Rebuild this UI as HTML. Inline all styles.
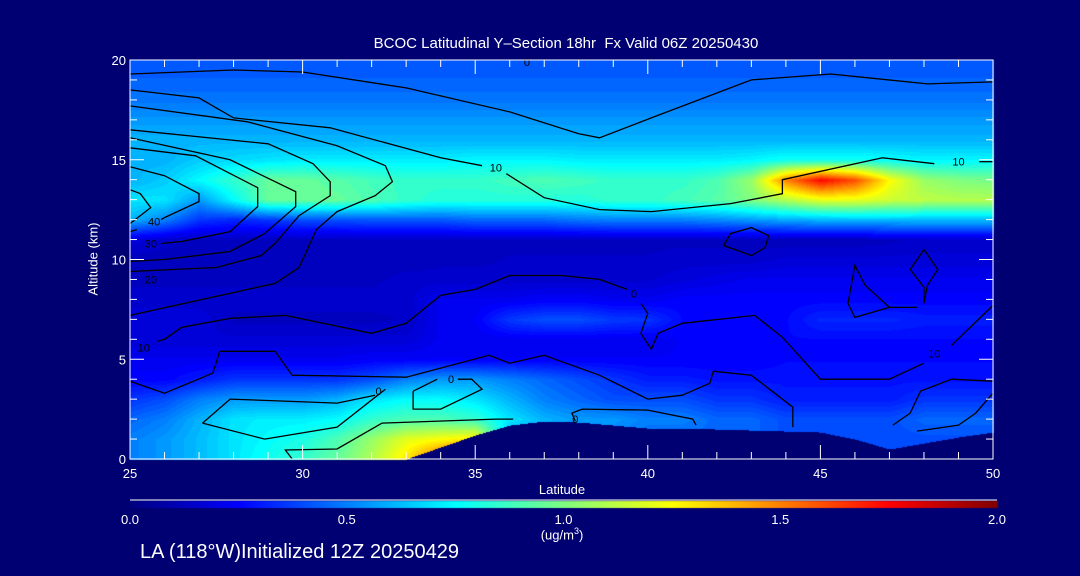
<!DOCTYPE html>
<html><head><meta charset="utf-8"><style>
html,body{margin:0;padding:0;background:#000073;}
#wrap{position:relative;width:1080px;height:576px;overflow:hidden;background:#000073;font-family:"Liberation Sans",sans-serif;color:#fff;}
.t{position:absolute;white-space:nowrap;color:#fff;}
</style></head><body>
<div id="wrap">
<div class="t" style="left:0;width:1132px;text-align:center;top:35px;font-size:15px;">BCOC Latitudinal Y&#8211;Section 18hr&nbsp; Fx Valid 06Z 20250430</div>
<canvas id="cv" width="1080" height="576" style="position:absolute;left:0;top:0;"></canvas>
<svg id="sv" width="1080" height="576" style="position:absolute;left:0;top:0;"></svg>
<div class="t" style="left:93px;top:259px;font-size:13px;transform:translate(-50%,-50%) rotate(-90deg);">Altitude (km)</div>
<div class="t" style="left:562px;top:482px;font-size:13px;transform:translateX(-50%);">Latitude</div>
<div class="t" style="left:562px;top:526px;font-size:13px;transform:translateX(-50%);">(ug/m<sup style="font-size:9px">3</sup>)</div>
<div class="t" style="left:140px;top:541px;font-size:20px;">LA (118°W)Initialized 12Z 20250429</div>
</div>
<script>
const lats=[25,26,27,28,29,30,31,32,33,34,35,36,37,38,39,40,41,42,43,44,45,46,47,48,49,50];
const alts=[0,1,2,3,4,5,6,7,8,9,10,11,12,13,14,15,16,17,18,19,20];
const bcoc=[
[.5,.55,.62,.7,.78,.85,.95,1.1,1.3,1.6,1.9,.4,.4,.4,.4,.4,.4,.4,.4,.4,.4,.4,.4,.4,.4,.4],
[.5,.55,.62,.7,.75,.8,.9,1.05,1.2,1.25,1.3,.6,.55,.5,.5,.45,.45,.45,.45,.4,.4,.4,.4,.4,.4,.4],
[.45,.5,.6,.7,.72,.72,.75,.85,.9,.9,.85,.7,.6,.55,.55,.5,.5,.45,.45,.4,.4,.4,.4,.45,.45,.45],
[.35,.4,.5,.55,.55,.55,.6,.7,.75,.75,.7,.6,.5,.45,.4,.4,.4,.35,.35,.3,.3,.3,.3,.35,.35,.35],
[.25,.25,.3,.35,.35,.35,.35,.4,.5,.55,.55,.5,.45,.4,.35,.3,.3,.28,.28,.28,.28,.28,.28,.28,.28,.28],
[.22,.22,.22,.22,.22,.22,.22,.24,.24,.24,.24,.24,.24,.24,.24,.24,.24,.24,.24,.26,.26,.26,.26,.26,.26,.26],
[.17,.17,.17,.17,.17,.17,.17,.17,.17,.22,.22,.22,.22,.22,.22,.22,.24,.24,.26,.26,.26,.26,.26,.26,.26,.26],
[.18,.18,.18,.13,.13,.13,.13,.13,.14,.22,.24,.36,.4,.4,.36,.35,.26,.26,.26,.26,.32,.32,.32,.3,.3,.3],
[.15,.15,.15,.15,.15,.15,.15,.15,.15,.22,.22,.22,.24,.24,.22,.22,.25,.25,.25,.25,.25,.25,.25,.25,.25,.25],
[.13,.13,.13,.13,.13,.13,.13,.13,.15,.15,.15,.15,.15,.15,.15,.16,.18,.2,.22,.22,.22,.22,.22,.22,.22,.22],
[.12,.12,.12,.12,.12,.12,.12,.12,.12,.13,.13,.14,.14,.14,.14,.14,.15,.15,.15,.17,.17,.17,.17,.17,.17,.17],
[.18,.15,.13,.13,.13,.13,.13,.13,.13,.13,.13,.13,.13,.13,.13,.13,.13,.13,.12,.12,.12,.12,.13,.15,.15,.15],
[.6,.5,.35,.32,.35,.4,.4,.42,.42,.42,.45,.45,.45,.48,.5,.5,.5,.52,.55,.58,.6,.62,.62,.62,.62,.62],
[.7,.7,.55,.75,.95,.95,.95,.9,.85,.82,.82,.82,.82,.82,.85,.85,.88,.92,1.0,1.1,1.2,1.2,1.15,1.12,1.1,1.1],
[.6,.65,.75,.85,.95,.95,.92,.88,.85,.85,.85,.88,.9,.88,.85,.85,.85,.9,1.05,1.5,1.75,1.6,1.25,1.05,1.0,.98],
[.6,.6,.65,.68,.7,.72,.72,.72,.72,.72,.74,.74,.74,.72,.72,.72,.72,.72,.74,.78,.78,.78,.76,.74,.74,.74],
[.6,.6,.6,.6,.6,.6,.6,.6,.6,.6,.6,.6,.6,.6,.6,.6,.6,.6,.6,.6,.6,.6,.6,.6,.6,.6],
[.55,.55,.55,.55,.55,.55,.55,.55,.55,.55,.55,.55,.55,.55,.55,.55,.55,.55,.55,.55,.55,.55,.55,.55,.55,.55],
[.48,.48,.48,.48,.48,.48,.48,.48,.48,.48,.48,.48,.48,.48,.48,.48,.48,.48,.48,.48,.48,.48,.48,.48,.48,.48],
[.44,.44,.44,.44,.44,.44,.44,.44,.44,.44,.44,.44,.44,.44,.44,.44,.44,.44,.44,.44,.44,.44,.44,.44,.44,.44],
[.42,.42,.42,.42,.42,.42,.42,.42,.42,.42,.42,.42,.42,.42,.42,.42,.42,.42,.42,.42,.42,.42,.42,.42,.42,.42]];
const terrain=[0,0,0,0,0,0,0,0,0,0.6,1.2,1.7,1.9,1.85,1.7,1.55,1.55,1.5,1.45,1.4,1.35,1.0,0.5,0.8,1.1,1.35];
const xTicks=[25,30,35,40,45,50];
const yTicks=[0,5,10,15,20];
const cbTicks=["0.0","0.5","1.0","1.5","2.0"];
const cbMax=2.0;
const contourLines=[
 [[25,19.3],[28,19.5],[30,19.4],[33,18.6],[36,17.4],[38,16.3],[38.6,16.1],[40.1,17.1],[43,19.0],[45.3,19.3],[48.1,18.8],[50,18.9]],
 [[25,18.5],[27,18.1],[28,17.1],[30.8,16.6],[34,15.1],[35.2,14.7]],
 [[35.9,14.3],[37,13.1],[38.6,12.5],[40.1,12.4],[42.4,12.8],[43.9,13.3],[43.9,14.0],[46.8,15.1],[48.3,14.8]],
 [[49.6,14.9],[50,14.9]],
 [[25,17.7],[28.4,16.9],[31,15.7],[32.4,14.7],[32.6,13.9],[32.1,13.2],[31,12.4],[30.4,11.5],[29.9,9.6],[29.2,8.8],[25,7.2]],
 [[25,16.5],[29,15.8],[30.3,14.8],[30.8,13.9],[30.8,13.2],[29.9,12.2],[29.2,10.8],[28.8,10.2],[27.5,9.6],[25,9.4]],
 [[25,16.1],[27.9,15.0],[29.8,13.4],[29.8,12.65],[28.9,11.3],[27.9,10.4],[26,10.0],[25,9.9]],
 [[25,15.6],[26.9,15.2],[28.7,13.6],[28.7,12.65],[27.9,11.4],[26.5,10.9],[25.9,10.8]],
 [[25,14.65],[26,14.2],[27.0,13.3],[27.0,12.9],[26.0,12.1],[25.9,12.0]],
 [[25,13.5],[25.3,13.3],[25.6,12.6],[25,11.8]],
 [[25.2,11.5],[25,11.4]],
 [[25.8,5.9],[26,6.0],[26.5,6.6],[27.9,7.05],[29.5,7.2],[32,6.3],[33,6.8],[34,8.2],[35,8.5],[36,9.2],[37.5,9.2],[38.6,9.0],[39.4,8.5]],
 [[39.8,7.8],[40.0,7.3],[39.8,6.3],[40.1,5.5],[40.3,6.3],[41,6.8],[43.1,7.2],[43.9,6.1],[45,4.0],[47,4.0],[48.0,4.8]],
 [[48.8,5.7],[50,7.7]],
 [[25,3.9],[26,3.3],[27.4,4.3],[27.6,5.4],[29.2,5.4],[29.7,4.2],[33,4.1],[35.4,5.2],[36,4.8],[37,5.2],[38.6,4.2],[40,3.0],[41,3.2],[41.8,3.8],[41.9,4.4],[43,4.2],[44.2,2.6],[44.2,1.6]],
 [[27.1,1.8],[27.9,3.0],[31,2.8],[32.1,3.2]],
 [[32.4,3.5],[31,1.6],[28.9,1.0],[27.1,1.8]],
 [[33.2,3.4],[33.9,4.0]],
 [[34.5,4.0],[34.9,4.0],[35.2,3.5],[34,2.5],[33.2,2.5],[33.2,3.4]],
 [[29.7,0],[29.5,0.45],[31,0.5],[32.3,1.8],[35.6,2.0],[36.1,2.0]],
 [[37.9,1.9],[37.8,2.3],[38.1,2.5],[40,2.45],[41.3,2.0],[41.4,1.7]],
 [[42.2,10.7],[42.4,11.3],[43,11.6],[43.5,11.2],[43.4,10.6],[43,10.2],[42.2,10.7]],
 [[47.8,7.6],[47,7.6],[46.3,8.7],[46,9.7],[45.8,7.8],[46,7.1],[47,7.6]],
 [[48,10.5],[48.4,9.5],[48.1,8.7],[48,7.8],[48,8.6],[47.6,9.5],[48,10.5]],
 [[47.1,1.7],[47.6,2.3],[47.9,3.4],[48.8,4.0],[50,3.9]],
 [[50,3.3],[49.5,2.3],[49,1.7],[47.8,1.4]]
];
const labels=[[35.6,14.6,'10'],[49,14.9,'10'],[25.7,11.9,'40'],[25.6,10.8,'30'],[25.6,9.0,'20'],[25.4,5.6,'10'],[39.6,8.3,'0'],[48.3,5.3,'10'],[34.3,4.0,'0'],[32.2,3.4,'0'],[37.9,2.0,'0'],[36.5,19.9,'0']];
const W=1080,H=576;
const X0=130,X1=993,Y0=459,Y1=60;
const xs=lat=>X0+(lat-25)*(X1-X0)/25;
const ys=alt=>Y0-alt*(Y0-Y1)/20;
function jet(v){let t=Math.max(0,Math.min(1,v/cbMax));const c=x=>Math.round(255*Math.max(0,Math.min(1,x)));
 return [c(1.5-Math.abs(4*t-3)),c(1.5-Math.abs(4*t-2)),c(1.5-Math.abs(4*t-1))];}
function field(lat,alt){let i=Math.min(lats.length-2,Math.max(0,Math.floor(lat-25)));let j=Math.min(alts.length-2,Math.max(0,Math.floor(alt)));
 let fx=Math.max(0,Math.min(1,lat-lats[i])),fy=Math.max(0,Math.min(1,alt-alts[j]));
 return bcoc[j][i]*(1-fx)*(1-fy)+bcoc[j][i+1]*fx*(1-fy)+bcoc[j+1][i]*(1-fx)*fy+bcoc[j+1][i+1]*fx*fy;}
function terr(lat){let i=Math.min(lats.length-2,Math.floor(lat-25));let f=lat-lats[i];return terrain[i]*(1-f)+terrain[i+1]*f;}
const cv=document.getElementById('cv'),ctx=cv.getContext('2d');
const img=ctx.createImageData(W,H);
for(let py=Y1;py<=Y0;py++){for(let px=X0;px<=X1;px++){
 const lat=25+(px-X0)*25/(X1-X0),alt=(Y0-py)*20/(Y0-Y1);
 let c;if(alt<terr(lat))c=[0,0,115];else{let v=field(lat,alt);v=Math.round(v*40)/40;c=jet(v);}
 const k=(py*W+px)*4;img.data[k]=c[0];img.data[k+1]=c[1];img.data[k+2]=c[2];img.data[k+3]=255;}}
for(let py=501;py<=507;py++)for(let px=130;px<=997;px++){const c=jet((px-130)/(997-130)*cbMax);const k=(py*W+px)*4;img.data[k]=c[0];img.data[k+1]=c[1];img.data[k+2]=c[2];img.data[k+3]=255;}
ctx.putImageData(img,0,0);
const NS='http://www.w3.org/2000/svg',sv=document.getElementById('sv');
function mk(tag,attrs){const e=document.createElementNS(NS,tag);for(const k in attrs)e.setAttribute(k,attrs[k]);sv.appendChild(e);return e;}
contourLines.forEach(l=>{const e=mk('polyline',{points:l.map(p=>xs(p[0]).toFixed(1)+','+ys(p[1]).toFixed(1)).join(' '),fill:'none',stroke:'#000','stroke-width':1.3});
 
 });
labels.forEach(p=>{
 const t=mk('text',{x:xs(p[0]),y:ys(p[1])+4,fill:'#000','font-size':11,'text-anchor':'middle','font-family':'Liberation Sans, sans-serif'});t.textContent=p[2];
 
 });
const frame=mk('rect',{x:X0,y:Y1,width:X1-X0,height:Y0-Y1,fill:'none',stroke:'#fff','stroke-width':1});


for(let lat=25;lat<=50;lat++){const maj=lat%5===0,L=maj?14:7;
 const a=mk('line',{x1:xs(lat),x2:xs(lat),y1:Y0,y2:Y0-L,stroke:'#fff'});
 const b=mk('line',{x1:xs(lat),x2:xs(lat),y1:Y1,y2:Y1+L,stroke:'#fff'});}
xTicks.forEach(v=>{const t=mk('text',{x:xs(v),y:Y0+19,fill:'#fff','font-size':13,'text-anchor':'middle','font-family':'Liberation Sans, sans-serif'});t.textContent=v;
 });
for(let a=0;a<=20;a++){const L=a%5===0?14:7;
 const l1=mk('line',{x1:X0,x2:X0+L,y1:ys(a),y2:ys(a),stroke:'#fff'});
 const l2=mk('line',{x1:X1,x2:X1-L,y1:ys(a),y2:ys(a),stroke:'#fff'});}
yTicks.forEach(v=>{const t=mk('text',{x:X0-4,y:ys(v)+5,fill:'#fff','font-size':13,'text-anchor':'end','font-family':'Liberation Sans, sans-serif'});t.textContent=v;
 });
const cbl=mk('line',{x1:130,x2:997,y1:500,y2:500,stroke:'#fff'});
cbTicks.forEach((s,i)=>{const t=mk('text',{x:130+i*(997-130)/(cbTicks.length-1),y:524,fill:'#fff','font-size':13,'text-anchor':'middle','font-family':'Liberation Sans, sans-serif'});t.textContent=s;
 });
</script>
</body></html>
